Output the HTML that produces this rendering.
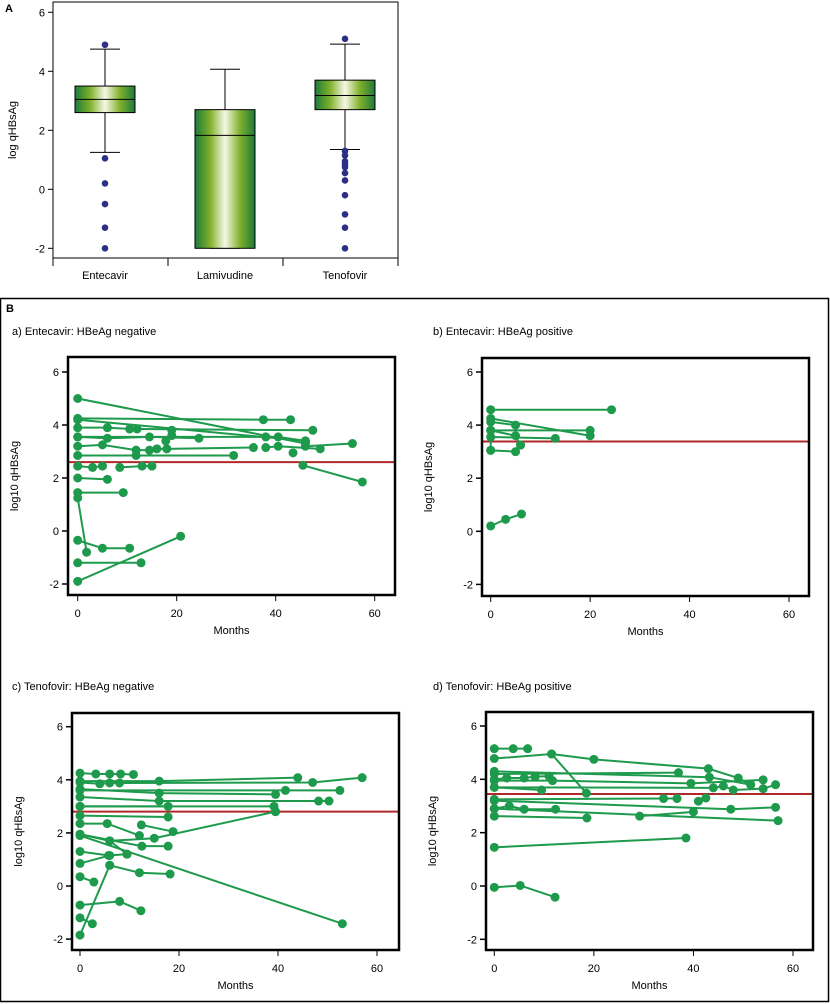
<!DOCTYPE html>
<html><head><meta charset="utf-8"><style>
body{margin:0;background:#fff;}
svg{display:block;font-family:"Liberation Sans",sans-serif;}
</style></head><body>
<svg id="fig" width="830" height="1004" viewBox="0 0 830 1004" xmlns="http://www.w3.org/2000/svg">
<defs>
<linearGradient id="boxg" x1="0" x2="1" y1="0" y2="0">
<stop offset="0" stop-color="#1c7a3c"/><stop offset="0.25" stop-color="#7fb02a"/><stop offset="0.5" stop-color="#f6f8e6"/><stop offset="0.75" stop-color="#7fb02a"/><stop offset="1" stop-color="#1c7a3c"/>
</linearGradient>
</defs>
<rect x="0.5" y="298.5" width="828" height="703" fill="none" stroke="#000" stroke-width="1.5"/>
<text x="5" y="12" font-size="11" font-weight="bold">A</text>
<text x="6" y="312" font-size="11" font-weight="bold">B</text>
</svg>
<script>
// ---- Panel A data ----
const boxCats = ["Entecavir","Lamivudine","Tenofovir"];
const boxQ1 = [2.6, -2.0, 2.7];
const boxMed = [3.05, 1.83, 3.18];
const boxQ3 = [3.5, 2.7, 3.7];
const whiskLo = [1.25, -2.0, 1.35];
const whiskHi = [4.75, 4.07, 4.92];
const outEnt = [4.9, 1.05, 0.2, -0.5, -1.3, -2.0];
const outLam = [];
const outTen = [5.1, 1.3, 1.15, 0.95, 0.85, 0.75, 0.55, 0.3, -0.2, -0.85, -1.3, -2.0];
const yTicksA = [-2, 0, 2, 4, 6];
const xTicks = [0, 20, 40, 60];
const yTicksB = [-2, 0, 2, 4, 6];

// ---- Panel B data (each series: months, values) ----
const aMonths = [[0,46],[0,37.5,43],[0,46],[0,6,10.5,12,47.5],[0,6,14.5,24.5],[0,38,40.5,46],[0,5,11.8,14.5,16,18,35.5],[0,11.8,31.5],[17.8,19,19],[38,40.5,49],[46,55.5],[43.5],[45.5,57.5],[0,3,5],[8.5,13,15],[0,6],[0,9.2],[0,1.8],[0,5,10.5],[0,12.8],[0,20.8]];
const aValues = [[5.0,3.3],[4.25,4.2,4.2],[4.2,3.4],[3.9,3.9,3.85,3.85,3.8],[3.55,3.5,3.55,3.5],[3.55,3.55,3.55,3.4],[3.2,3.25,3.05,3.05,3.1,3.1,3.15],[2.85,2.85,2.85],[3.4,3.8,3.6],[3.15,3.2,3.1],[3.2,3.3],[2.95],[2.48,1.85],[2.45,2.4,2.45],[2.4,2.45,2.45],[2.0,1.95],[1.45,1.45],[1.25,-0.8],[-0.35,-0.65,-0.65],[-1.2,-1.2],[-1.9,-0.2]];
const aRef = 2.6;

const bMonths = [[0,24.3],[0,20],[0,5],[0,5,6],[0,20],[0,13],[0,5,6],[0,0],[0,3,6.2]];
const bValues = [[4.58,4.58],[4.25,3.6],[4.12,4.0],[3.8,3.6,3.25],[3.8,3.8],[3.55,3.5],[3.05,3.0,3.25],[3.05,3.8],[0.2,0.45,0.65]];
const bRef = 3.38;

const cMonths = [[0,3.2,6,8.2,10.8],[0,16,44],[0,4,6,8,47,57],[0,16,39.5],[0,41.5,52.5],[0,16,48.2,50.3],[0,17.8],[0,39.2,39.5],[0,17.8],[0,5.5,12],[12.4,18.8],[0,6,15,39.5],[0,12.5,17.8],[0,53],[6,9.5],[0,5.8,9.5],[0,6],[0,2.8],[6,12,18.2],[0,8,12.3],[0,2.5],[0,6]];
const cValues = [[4.25,4.22,4.22,4.22,4.2],[3.95,3.95,4.08],[3.9,3.85,3.88,3.88,3.9,4.08],[3.65,3.5,3.45],[3.6,3.6,3.6],[3.35,3.2,3.2,3.2],[3.0,3.0],[3.0,3.0,2.8],[2.65,2.6],[2.35,2.35,1.9],[2.3,2.05],[1.95,1.7,1.8,2.8],[1.95,1.5,1.5],[1.9,-1.42],[1.7,1.2],[1.3,1.15,1.2],[0.85,1.15],[0.35,0.15],[0.78,0.5,0.45],[-0.72,-0.58,-0.93],[-1.2,-1.42],[-1.85,0.78]];
const cRef = 2.8;

const dMonths = [[0,3.8,6.7],[0,11.5,18.5],[11.5,20,43,49,51.5],[0,43.2,51.5],[0,2.5,6,8.2,11],[0,11.7,39.5,54],[0,9.5],[0,44,46,48,54,56.5],[0,34,36.7],[0,47.5,56.5],[0,3,6,12.3],[0,57],[0,18.6],[29.2,40],[41,42.5],[0,38.5],[0,5.2,12.2],[0,37]];
const dValues = [[5.15,5.15,5.15],[4.78,4.95,3.48],[4.95,4.75,4.4,4.05,3.8],[4.3,4.08,3.8],[4.0,4.05,4.05,4.1,4.12],[3.95,3.95,3.85,3.98],[3.7,3.6],[3.7,3.68,3.75,3.6,3.65,3.8],[3.25,3.28,3.28],[3.2,2.88,2.95],[2.9,3.0,2.88,2.88],[2.9,2.45],[2.62,2.55],[2.62,2.78],[3.18,3.3],[1.45,1.8],[-0.05,0.02,-0.42],[4.2,4.25]];
const dRef = 3.45;

const NS = "http://www.w3.org/2000/svg";
const svg = document.getElementById("fig");
function mk(tag, attrs, parent, txt){
  const e = document.createElementNS(NS, tag);
  for (const k in attrs) e.setAttribute(k, attrs[k]);
  if (txt !== undefined) e.textContent = txt;
  (parent||svg).appendChild(e);
  return e;
}

// ---- Panel A ----
(function(){
  const left=53, right=398, top=2, bottom=258;
  const y = v => 189.3 - v*29.5;
  const xc = i => [105, 225, 345][i];
  const g = mk("g", {}); 
  
  
  const fr = mk("path", {d:`M${left},${top} H${right} V${bottom} H${left} Z`, fill:"none", stroke:"#000", "stroke-width":1}, g);
  
  
  yTicksA.forEach(t=>{
    const tk = mk("line",{x1:left-5,x2:left,y1:y(t),y2:y(t),stroke:"#000"},g);
    
    
    const tl = mk("text",{x:left-8,y:y(t)+4,"font-size":11,"text-anchor":"end"},g,String(t));
    
    
  });
  [53,168,283,398].forEach(xx=>{
    const tk = mk("line",{x1:xx,x2:xx,y1:bottom,y2:bottom+8,stroke:"#000"},g);
    
    
  });
  const yl = mk("text",{x:16,y:130,"font-size":11,"text-anchor":"middle",transform:"rotate(-90 16 130)"},g,"log qHBsAg");
  
  
  const outs=[outEnt,outLam,outTen];
  boxCats.forEach((c,i)=>{
    const cx=xc(i), hw=30;
    const wl = mk("line",{x1:cx,x2:cx,y1:y(whiskHi[i]),y2:y(whiskLo[i]),stroke:"#000"},g);
    
    
    [whiskHi[i], whiskLo[i]].forEach(w=>{
      const cap = mk("line",{x1:cx-15,x2:cx+15,y1:y(w),y2:y(w),stroke:"#000"},g);
      
      
    });
    const b = mk("rect",{x:cx-hw,y:y(boxQ3[i]),width:hw*2,height:y(boxQ1[i])-y(boxQ3[i]),fill:"url(#boxg)",stroke:"#000","stroke-width":1},g);
    
    
    const md = mk("line",{x1:cx-hw,x2:cx+hw,y1:y(boxMed[i]),y2:y(boxMed[i]),stroke:"#000"},g);
    
    
    outs[i].forEach(v=>{
      const o = mk("circle",{cx:cx,cy:y(v),r:3.3,fill:"#2b2f86"},g);
      
      
    });
    const lb = mk("text",{x:cx,y:279,"font-size":11,"text-anchor":"middle"},g,c);
    
    
  });
})();

// ---- Panel B subplots ----
function panel(name, title, titleX, titleY, fx0, fx1, fy0, fy1, x0px, x60px, y0px, y6px, months, values, ref){
  const x = m => x0px + m*(x60px-x0px)/60;
  const y = v => y0px - v*(y0px-y6px)/6;
  const g = mk("g",{});
  
  
  const t = mk("text",{x:titleX,y:titleY,"font-size":11},g,title);
  
  
  yTicksB.forEach(tv=>{
    const tk = mk("line",{x1:fx0-6,x2:fx0,y1:y(tv),y2:y(tv),stroke:"#000","stroke-width":1.5},g);
    
    
    const tl = mk("text",{x:fx0-9,y:y(tv)+4,"font-size":11,"text-anchor":"end"},g,String(tv));
    
    
  });
  xTicks.forEach(tv=>{
    const tk = mk("line",{x1:x(tv),x2:x(tv),y1:fy1,y2:fy1+6,stroke:"#000","stroke-width":1},g);
    
    
    const tl = mk("text",{x:x(tv),y:fy1+22,"font-size":11,"text-anchor":"middle"},g,String(tv));
    
    
  });
  const xl = mk("text",{x:(fx0+fx1)/2,y:fy1+39,"font-size":11,"text-anchor":"middle"},g,"Months");
  
  
  const ycx = fx0-50, ycy=(fy0+fy1)/2;
  const yl = mk("text",{x:ycx,y:ycy,"font-size":11,"text-anchor":"middle",transform:`rotate(-90 ${ycx} ${ycy})`},g,"log10 qHBsAg");
  
  
  const rl = mk("line",{x1:fx0,x2:fx1,y1:y(ref),y2:y(ref),stroke:"#b0282a","stroke-width":2},g);
  
  
  months.forEach((ms,i)=>{
    const vs = values[i];
    if (ms.length>1){
      const pl = mk("polyline",{points:ms.map((m,j)=>x(m)+","+y(vs[j])).join(" "),fill:"none",stroke:"#1e9a4c","stroke-width":2},g);
      
      
    }
    ms.forEach((m,j)=>{
      const c = mk("circle",{cx:x(m),cy:y(vs[j]),r:4.5,fill:"#1e9a4c"},g);
      
      
    });
  });
  const fr = mk("rect",{x:fx0,y:fy0,width:fx1-fx0,height:fy1-fy0,fill:"none",stroke:"#000","stroke-width":2.5},g);
  
  
}
panel("panel-a-entecavir-negative","a) Entecavir: HBeAg negative",12,335,68,395,357,595,77.7,374.7,531,372,aMonths,aValues,aRef);
panel("panel-b-entecavir-positive","b) Entecavir: HBeAg positive",433,335,482,809,358,596,490.7,789,531.3,372,bMonths,bValues,bRef);
panel("panel-c-tenofovir-negative","c) Tenofovir: HBeAg negative",12,690,72,399,713,950,80,377,886,726.7,cMonths,cValues,cRef);
panel("panel-d-tenofovir-positive","d) Tenofovir: HBeAg positive",433,690,486,813,712,950,494.3,793,886,726,dMonths,dValues,dRef);
</script>
</body></html>
